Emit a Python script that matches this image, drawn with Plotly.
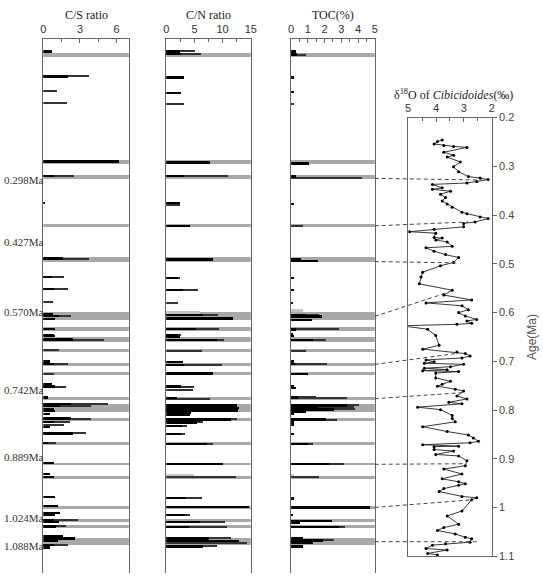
import plotly.graph_objects as go

W, H = 543, 579

# ---------------- data (left panels: depth in m, top of core = 0) ----------------
band_depth = [1.7, 12.7, 14.2, 19.15, 22.65, 28.35, 29.75, 30.8, 31.9, 33.3, 34.3,
              36.8, 37.8, 38.95, 41.4, 43.5, 44.9, 47.9, 49.25, 49.9, 51.4]
band_thick = [0.4, 0.4, 0.4, 0.3, 0.5, 0.8, 0.4, 0.5, 0.3, 0.3, 0.3,
              0.3, 0.8, 0.3, 0.3, 0.3, 0.3, 0.3, 0.3, 0.3, 0.7]

# C/S ratio
cs_depth = [1.37, 3.93, 12.6, 14.1, 16.87, 22.53, 24.43, 25.63, 28.2, 28.4, 28.7, 29.7, 30.3,
            30.43, 30.8, 33.03, 33.27, 35.37, 35.6, 36.7, 37.37, 37.6, 37.87, 38.1, 38.37,
            38.87, 39.2, 39.7, 40.37, 41.37, 43.37, 44.53, 44.8, 46.87, 47.8, 48.53, 48.7,
            49.2, 49.43, 49.87, 50.87, 51.1, 51.37, 51.8, 52.03]
cs_value = [0.7, 2.07, 6.2, 0.86, 0.2, 1.67, 0.7, 0.86, 0.8, 1.3, 1.0, 1.0, 0.86,
            1.0, 2.47, 0.6, 0.9, 0.7, 1.0, 0.4, 2.3, 1.4, 0.9, 1.0, 0.6,
            2.3, 0.9, 0.6, 2.47, 0.4, 0.9, 0.6, 0.9, 1.0, 1.2, 1.4, 1.0,
            0.9, 1.3, 1.1, 1.67, 2.6, 1.2, 0.9, 0.6]
cs_line_depth = [3.93, 5.43, 6.6, 14.1, 22.53, 24.43, 25.63, 26.97, 28.4, 30.8, 31.87, 33.27,
                 34.27, 35.6, 37.37, 37.6, 38.87, 39.2, 39.53, 40.37, 41.37, 49.2, 49.87, 51.8]
cs_line_value = [3.76, 1.13, 1.94, 2.55, 3.8, 1.7, 2.07, 0.78, 2.3, 4.97, 1.3, 2.07,
                 0.86, 1.88, 5.3, 3.95, 3.9, 2.2, 1.7, 3.5, 1.05, 2.9, 1.85, 2.07]

# C/N ratio
cn_depth = [1.37, 1.63, 4.03, 5.6, 12.7, 14.1, 16.87, 19.2, 22.63, 24.53, 25.7, 28.3, 28.63,
            29.7, 30.37, 30.53, 30.87, 33.1, 33.37, 34.27, 35.6, 36.77, 37.53, 37.77, 37.97,
            38.03, 38.3, 38.47, 38.95, 39.25, 39.63, 40.43, 41.43, 43.53, 46.97, 47.87, 48.7,
            49.43, 49.93, 51.1, 51.37, 51.93]
cn_value = [2.4, 2.6, 3.2, 2.7, 7.85, 3.2, 2.4, 4.2, 8.4, 2.2, 3.0, 6.5, 11.9,
            5.35, 2.2, 2.5, 9.1, 3.0, 3.2, 8.4, 2.7, 1.9, 12.6, 12.9, 9.4,
            12.8, 4.5, 4.2, 11.5, 5.5, 2.9, 2.7, 7.2, 10.1, 3.6, 14.8, 3.3,
            5.95, 4.1, 7.6, 12.9, 6.5]
cn_line_depth = [1.37, 1.63, 6.7, 14.1, 17.1, 24.53, 25.7, 27.1, 28.3, 29.7, 30.37, 30.87,
                 31.93, 33.37, 35.6, 35.93, 36.87, 38.95, 39.25, 39.63, 40.43, 41.43, 44.87,
                 46.97, 48.7, 49.43, 49.93, 51.1, 51.53, 51.93]
cn_line_value = [5.2, 6.2, 3.2, 11.0, 2.4, 2.5, 5.6, 2.2, 9.3, 9.4, 2.6, 10.3,
                 6.3, 10.0, 4.9, 4.8, 7.8, 12.6, 6.6, 3.7, 3.3, 8.4, 12.4,
                 6.4, 4.2, 10.5, 10.9, 11.6, 14.3, 9.0]
cn_shade_depth = [28.0, 44.7]
cn_shade_value = [6.0, 5.0]

# TOC (%)
toc_depth = [1.37, 1.7, 4.03, 5.53, 12.8, 14.13, 16.93, 22.63, 22.77, 24.53, 25.7, 27.03,
             28.3, 28.43, 28.77, 29.77, 30.27, 30.43, 30.87, 33.03, 33.3, 34.3, 35.6, 35.77,
             36.7, 37.53, 37.7, 37.93, 38.13, 38.37, 38.97, 39.27, 39.53, 40.47, 41.43,
             43.53, 47.03, 47.93, 48.7, 49.3, 49.47, 49.93, 51.03, 51.3, 51.53, 51.93]
toc_value = [0.31, 0.35, 0.2, 0.15, 1.1, 0.3, 0.15, 0.6, 1.6, 0.2, 0.2, 0.1,
             0.9, 1.88, 1.25, 0.3, 0.1, 0.2, 1.3, 0.15, 0.3, 1.0, 0.2, 0.3,
             0.4, 3.35, 1.6, 2.57, 0.9, 0.2, 2.08, 0.2, 0.15, 0.2, 1.0,
             2.27, 0.15, 4.73, 0.1, 2.47, 0.55, 2.86, 0.7, 1.9, 1.3, 0.7]
toc_line_depth = [1.7, 6.77, 14.27, 19.2, 28.3, 29.77, 30.87, 31.93, 33.3, 36.7, 36.8,
                  37.53, 37.7, 37.93, 38.97, 41.43, 43.53, 44.87, 49.93, 51.3]
toc_line_value = [0.9, 0.2, 4.24, 0.7, 1.7, 2.86, 2.08, 0.9, 2.18, 1.5, 3.35,
                  4.04, 3.75, 3.84, 2.76, 1.3, 3.16, 1.7, 3.25, 2.57]
toc_shade_depth = [27.87, 44.7]
toc_shade_value = [0.7, 0.2]

# age labels beside the C/S column
age_label_text = ["0.298Ma", "0.427Ma", "0.570Ma", "0.742Ma", "0.889Ma", "1.024Ma", "1.088Ma"]
age_label_depth = [14.5, 20.8, 27.9, 35.9, 42.8, 49.0, 51.8]

# benthic d18O record (Cibicidoides)
d18o_age = [0.246, 0.249, 0.254, 0.257, 0.259, 0.261, 0.271, 0.277, 0.281, 0.291, 0.301, 0.311,
            0.321, 0.324, 0.327, 0.331, 0.334, 0.337, 0.344, 0.347, 0.351, 0.357, 0.364, 0.371,
            0.377, 0.384, 0.394, 0.397, 0.404, 0.407, 0.414, 0.417, 0.424, 0.429, 0.434, 0.437,
            0.446, 0.447, 0.451, 0.455, 0.464, 0.467, 0.474, 0.481, 0.487, 0.497, 0.504, 0.517,
            0.527, 0.541, 0.554, 0.564, 0.574, 0.580, 0.586, 0.594, 0.600, 0.607, 0.614, 0.617,
            0.622, 0.624, 0.627, 0.634, 0.647, 0.667, 0.675, 0.681, 0.684, 0.689, 0.693, 0.697,
            0.701, 0.704, 0.706, 0.711, 0.714, 0.717, 0.719, 0.721, 0.724, 0.734, 0.741, 0.747,
            0.751, 0.757, 0.761, 0.771, 0.777, 0.784, 0.787, 0.794, 0.799, 0.811, 0.817, 0.824,
            0.834, 0.844, 0.851, 0.857, 0.864, 0.867, 0.871, 0.874, 0.875, 0.881, 0.884, 0.891,
            0.894, 0.904, 0.914, 0.921, 0.931, 0.941, 0.947, 0.951, 0.954, 0.961, 0.967, 0.977,
            0.980, 0.984, 1.007, 1.017, 1.034, 1.041, 1.047, 1.054, 1.061, 1.064, 1.071, 1.074,
            1.077, 1.084, 1.087, 1.094, 1.097]
d18o_value = [3.78, 3.95, 4.07, 3.72, 3.37, 2.89, 3.72, 3.37, 3.60, 3.13, 3.37, 3.19,
              2.84, 2.42, 2.13, 2.54, 2.89, 4.13, 3.78, 4.13, 3.48, 3.84, 3.66, 3.78,
              3.60, 3.42, 3.07, 2.89, 2.42, 2.13, 2.60, 3.01, 3.01, 4.07, 4.95, 4.01,
              4.07, 3.78, 4.01, 3.60, 3.42, 4.36, 4.07, 3.66, 3.19, 3.37, 3.84, 4.48,
              4.54, 4.60, 3.42, 3.72, 2.72, 4.36, 3.07, 2.84, 3.19, 2.95, 2.54, 2.89,
              2.72, 3.25, 5.25, 4.30, 4.01, 3.89, 4.48, 3.25, 2.95, 2.78, 3.07, 4.36,
              4.07, 4.42, 3.01, 3.48, 4.42, 3.60, 4.48, 3.19, 4.01, 4.01, 3.48, 3.78,
              3.95, 3.31, 3.01, 3.25, 2.89, 3.54, 3.07, 4.66, 3.84, 3.42, 3.42, 3.31,
              4.48, 3.60, 2.84, 2.66, 2.48, 2.78, 4.48, 3.19, 4.07, 4.07, 3.37, 4.01,
              3.19, 2.89, 2.95, 3.72, 3.07, 3.78, 3.19, 2.95, 3.19, 3.72, 3.89, 3.07,
              2.54, 2.72, 3.07, 3.60, 3.19, 3.72, 3.95, 3.31, 2.95, 2.72, 2.78, 3.66,
              4.13, 4.36, 3.60, 4.30, 3.95]

# tie points: grey layer depth -> age / d18O value on the curve
tie_depth = [14.3, 19.15, 22.8, 28.4, 33.3, 36.8, 43.5, 47.9, 51.4]
tie_age = [0.328, 0.414, 0.498, 0.558, 0.684, 0.764, 0.910, 0.984, 1.070]
tie_value = [2.35, 2.85, 3.2, 3.55, 3.3, 3.0, 3.0, 2.7, 2.5]

# ---------------- layout geometry ----------------
DEPTH_MAX = 54.6
left_top = 1 - 33 / H
cs_dom = [41 / W, 128 / W]
cn_dom = [166 / W, 252 / W]
toc_dom = [293 / W, 378 / W]
d18_dom = [412 / W, 497 / W]
d18_ydom = [1 - 562 / H, 1 - 114 / H]

BAND = "#a8a8a8"
SHADE = "#c4c4c4"
LINE = "#333333"
AXC = "#666666"
SERIF = "Liberation Serif, Times New Roman, serif"
SANS = "Liberation Sans, Arial, sans-serif"

fig = go.Figure()

panels = [
    ("x", "y", 7, cs_depth, cs_value, cs_line_depth, cs_line_value, [], []),
    ("x2", "y2", 15, cn_depth, cn_value, cn_line_depth, cn_line_value, cn_shade_depth, cn_shade_value),
    ("x3", "y3", 5, toc_depth, toc_value, toc_line_depth, toc_line_value, toc_shade_depth, toc_shade_value),
]
for xa, ya, xmax, bd, bv, ld, lv, sd, sv in panels:
    fig.add_trace(go.Bar(orientation="h", y=band_depth, x=[xmax] * len(band_depth), width=band_thick,
                         marker=dict(color=BAND, line=dict(width=0)), xaxis=xa, yaxis=ya,
                         showlegend=False, hoverinfo="skip"))
    if sd:
        fig.add_trace(go.Bar(orientation="h", y=sd, x=sv, width=0.3,
                             marker=dict(color=SHADE, line=dict(width=0)), xaxis=xa, yaxis=ya,
                             showlegend=False))
    fig.add_trace(go.Bar(orientation="h", y=ld, x=lv, width=0.12,
                         marker=dict(color=LINE, line=dict(width=0)), xaxis=xa, yaxis=ya,
                         showlegend=False))
    fig.add_trace(go.Bar(orientation="h", y=bd, x=bv, width=0.24,
                         marker=dict(color="black", line=dict(width=0)), xaxis=xa, yaxis=ya,
                         showlegend=False))

fig.add_trace(go.Scatter(x=d18o_value, y=d18o_age, mode="lines+markers",
                         line=dict(color="#222222", width=0.9),
                         marker=dict(color="black", size=3),
                         xaxis="x4", yaxis="y4", showlegend=False))

# dashed tie lines (paper coordinates derived from the axes' ranges/domains)
def depth_to_paper(d):
    return left_top - d / DEPTH_MAX * left_top

def age_to_paper(a):
    return d18_ydom[1] - (a - 0.2) / 0.9 * (d18_ydom[1] - d18_ydom[0])

def d18_to_paper(v):
    return d18_dom[0] + (5 - v) / 3 * (d18_dom[1] - d18_dom[0])

shapes = []
for d, a, v in zip(tie_depth, tie_age, tie_value):
    shapes.append(dict(type="line", xref="paper", yref="paper",
                       x0=toc_dom[1], y0=depth_to_paper(d), x1=d18_to_paper(v), y1=age_to_paper(a),
                       line=dict(color="#444444", width=1, dash="4px,3px")))

def left_xaxis(dom, rng, dt, minor_dt):
    return dict(domain=dom, range=rng, side="top", anchor="free", position=left_top,
                showline=True, linecolor=AXC, linewidth=1, mirror=False,
                ticks="inside", ticklen=4, tickcolor=AXC, dtick=dt, tick0=0,
                minor=dict(dtick=minor_dt, tick0=0, ticks="inside", ticklen=3, tickcolor=AXC),
                showgrid=False, zeroline=False, ticklabelstandoff=1,
                tickfont=dict(family=SANS, size=11, color="#333"))

def left_yaxis(anchor):
    return dict(domain=[0, left_top], range=[DEPTH_MAX, 0], anchor=anchor,
                showline=True, linecolor=AXC, linewidth=1, mirror=True,
                ticks="", showticklabels=False, showgrid=False, zeroline=False)

annotations = []
for txt, cx in [("C/S ratio", (cs_dom[0] + cs_dom[1]) / 2),
                ("C/N ratio", (cn_dom[0] + cn_dom[1]) / 2),
                ("TOC(%)", (toc_dom[0] + toc_dom[1]) / 2)]:
    annotations.append(dict(text=txt, x=cx, y=1 - 9 / H, xref="paper", yref="paper",
                            xanchor="center", yanchor="middle",
                            showarrow=False, font=dict(family=SERIF, size=12, color="#222")))
annotations.append(dict(text="δ<sup>18</sup>O of <i>Cibicidoides</i>(‰)", x=458 / W, y=1 - 90 / H,
                        xref="paper", yref="paper", xanchor="center", yanchor="middle",
                        showarrow=False, font=dict(family=SERIF, size=12, color="#222")))
for txt, d in zip(age_label_text, age_label_depth):
    annotations.append(dict(text=txt, x=44 / W, y=d, xref="paper", yref="y", xanchor="right",
                            yanchor="middle",
                            showarrow=False, font=dict(family=SERIF, size=11, color="#333")))

fig.update_layout(
    width=W, height=H, margin=dict(l=0, r=0, t=0, b=0),
    paper_bgcolor="white", plot_bgcolor="rgba(0,0,0,0)",
    barmode="overlay", bargap=0,
    xaxis=left_xaxis(cs_dom, [0, 7], 3, 1.5),
    xaxis2=left_xaxis(cn_dom, [0, 15], 5, 2.5),
    xaxis3=left_xaxis(toc_dom, [0, 5], 1, 0.5),
    yaxis=left_yaxis("x"),
    yaxis2=left_yaxis("x2"),
    yaxis3=left_yaxis("x3"),
    xaxis4=dict(domain=d18_dom, range=[5, 2], side="top", anchor="y4",
                showline=True, linecolor=AXC, linewidth=1, mirror=True,
                ticks="inside", ticklen=4, tickcolor=AXC, dtick=1, tick0=0,
                minor=dict(dtick=0.5, tick0=0, ticks="inside", ticklen=3, tickcolor=AXC),
                showgrid=False, zeroline=False,
                tickfont=dict(family=SANS, size=11, color="#333")),
    yaxis4=dict(domain=d18_ydom, range=[1.1, 0.2], side="right", anchor="x4",
                showline=True, linecolor=AXC, linewidth=1, mirror=True,
                ticks="outside", ticklen=4, tickcolor=AXC, dtick=0.1, tick0=0,
                showgrid=False, zeroline=False,
                tickfont=dict(family=SANS, size=11, color="#444"),
                title=dict(text="Age(Ma)", font=dict(family=SANS, size=12, color="#555"), standoff=14)),
    shapes=shapes,
    annotations=annotations,
    font=dict(family=SANS),
)

fig.write_html("out.html")
